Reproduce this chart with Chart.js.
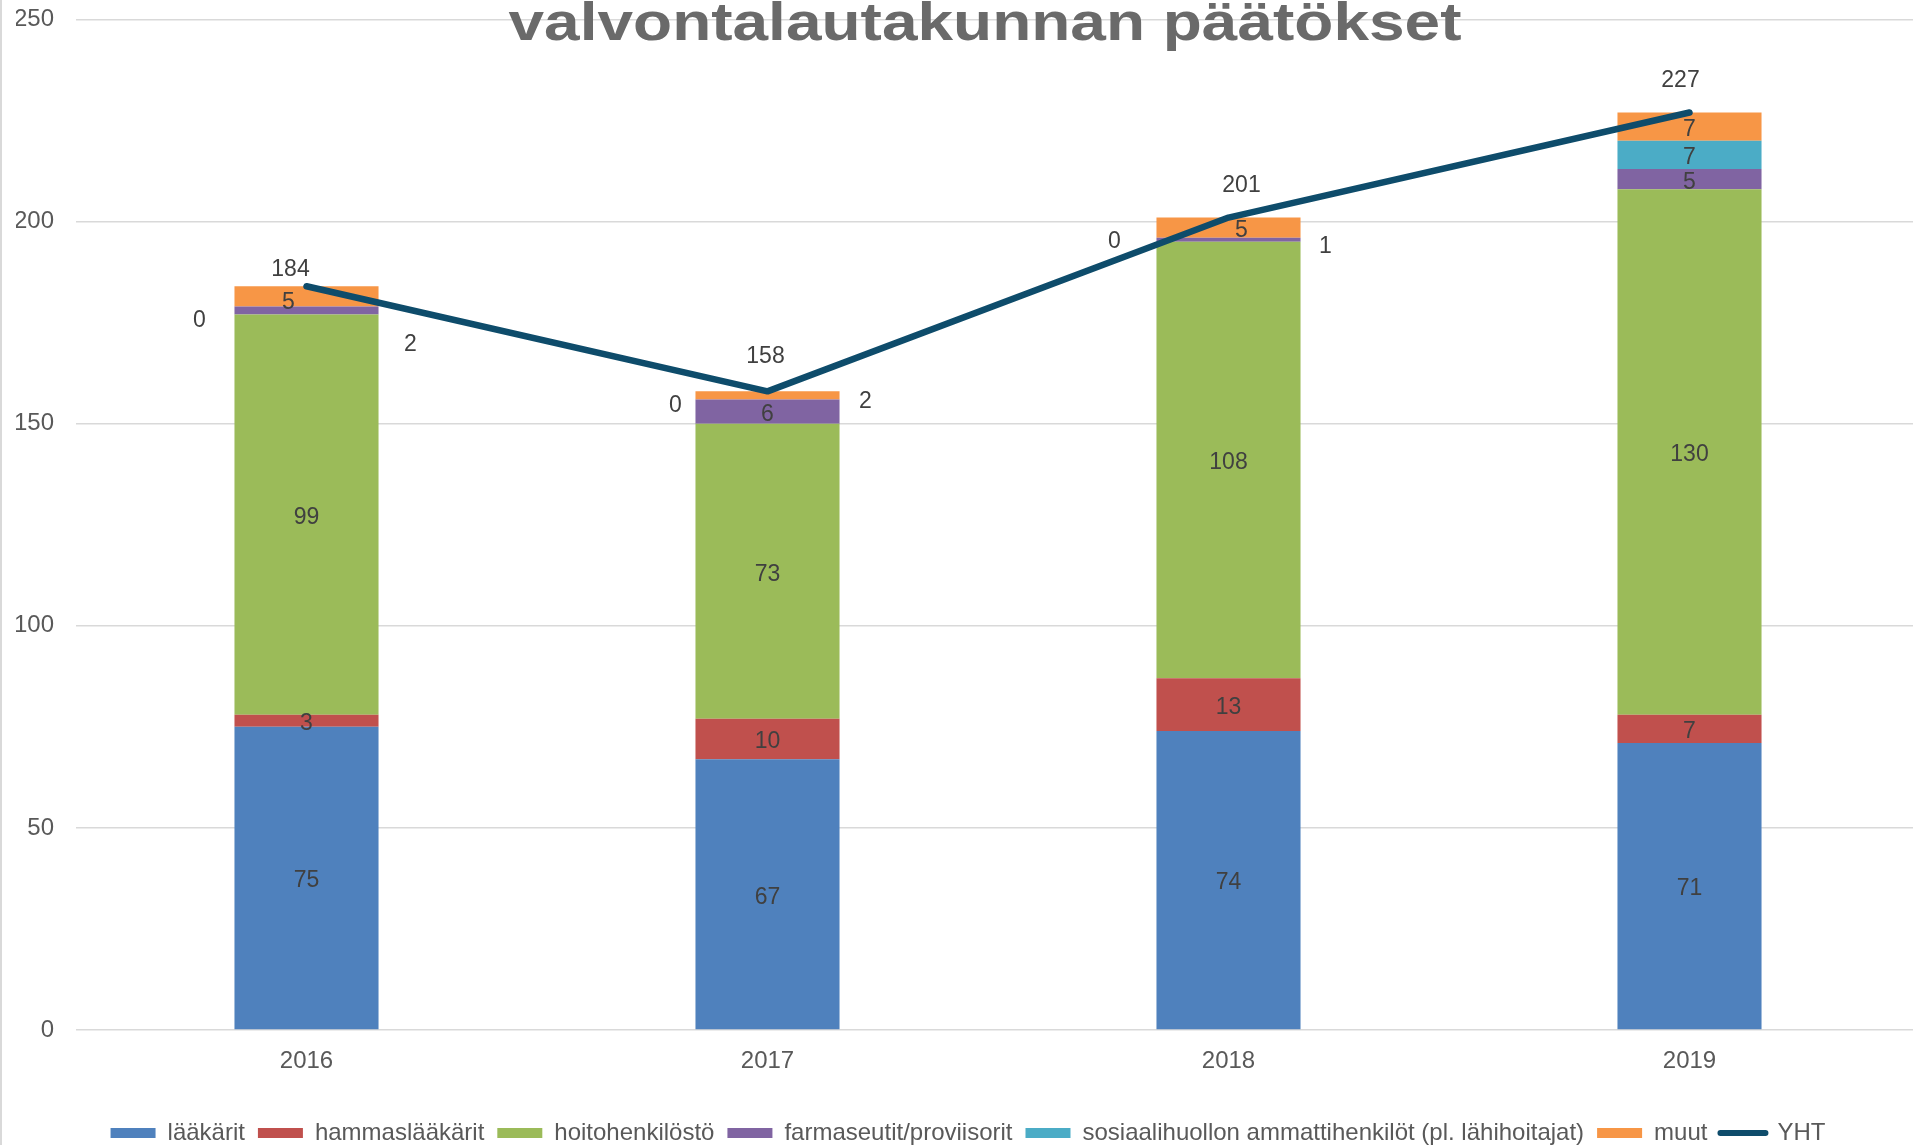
<!DOCTYPE html>
<html><head><meta charset="utf-8">
<script src="https://cdn.jsdelivr.net/npm/chart.js@4/dist/chart.umd.min.js"></script>
<style>
html,body{margin:0;padding:0;overflow:hidden;background:#fff;width:1913px;height:1145px}
#wrap{position:relative;width:1920px;height:1155px}
canvas{display:block}
</style>
</head><body><div id="wrap"><canvas id="c" width="1920" height="1155"></canvas></div>
<script>
const categories = ['2016', '2017', '2018', '2019'];
const laakarit = [75, 67, 74, 71];
const hammaslaakarit = [3, 10, 13, 7];
const hoitohenkilosto = [99, 73, 108, 130];
const farmaseutit = [2, 6, 1, 5];
const sosiaalihuolto = [0, 0, 0, 7];
const muut = [5, 2, 5, 7];
const yht = [184, 158, 201, 227];
const yTicks = [0, 50, 100, 150, 200, 250];
const seriesNames = ['lääkärit', 'hammaslääkärit', 'hoitohenkilöstö', 'farmaseutit/proviisorit', 'sosiaalihuollon ammattihenkilöt (pl. lähihoitajat)', 'muut', 'YHT'];
const titleText = 'valvontalautakunnan päätökset';

const FONT = '"Liberation Sans", Arial, sans-serif';
const barColors = ['#4f81bd', '#c0504d', '#9bbb59', '#8064a2', '#4bacc6', '#f79646'];
const lineColor = '#0e4c6b';

// manual label nudges (datasetIndex,index) -> [dx, dy] in px
const nudges = {
  '4,0': [-107, 11], '3,0': [104, 31], '5,0': [-18, 3], '6,0': [-16, -20],
  '4,1': [-92, 3], '5,1': [98, 3], '6,1': [-2, -38],
  '3,2': [97, 4], '4,2': [-114, 1], '5,2': [13, 0], '6,2': [13, -35],
  '6,3': [-9, -35]
};

const labelPlugin = {
  id: 'valueLabels',
  afterDatasetsDraw(chart) {
    const ctx = chart.ctx;
    ctx.save();
    ctx.font = '23px ' + FONT;
    ctx.fillStyle = '#404040';
    ctx.textAlign = 'center';
    ctx.textBaseline = 'middle';
    chart.data.datasets.forEach((ds, di) => {
      const meta = chart.getDatasetMeta(di);
      meta.data.forEach((el, i) => {
        let x = el.x, y;
        if (ds.type === 'line') y = el.y; else y = (el.y + el.base) / 2;
        const n = nudges[di + ',' + i];
        if (n) { x += n[0]; y += n[1]; }
        ctx.fillText(String(ds.data[i]), x, y + 3);
      });
    });
    ctx.restore();
  }
};

const decoPlugin = {
  id: 'deco',
  afterDraw(chart) {
    const ctx = chart.ctx;
    ctx.save();
    ctx.strokeStyle = '#d9d9d9';
    ctx.lineWidth = 2;
    ctx.beginPath(); ctx.moveTo(1, 0); ctx.lineTo(1, chart.height); ctx.stroke();
    ctx.font = 'bold 53px ' + FONT;
    const w = ctx.measureText(titleText).width;
    const targetW = 953;
    const cx = 985;
    ctx.fillStyle = '#ffffff';
    ctx.fillRect(cx - targetW / 2 - 4, 0, targetW + 8, 14);
    ctx.fillStyle = '#6a6a6a';
    ctx.textAlign = 'center';
    ctx.textBaseline = 'alphabetic';
    ctx.translate(cx, 40);
    ctx.scale(targetW / w, 1);
    ctx.fillText(titleText, 0, 0);
    ctx.restore();
  }
};

const barSeries = [laakarit, hammaslaakarit, hoitohenkilosto, farmaseutit, sosiaalihuolto, muut];
const datasets = barSeries.map((d, i) => ({
  type: 'bar',
  label: seriesNames[i],
  data: d,
  backgroundColor: barColors[i],
  borderWidth: 0,
  order: 1,
  categoryPercentage: 1,
  barPercentage: 0.3125
}));
datasets.push({
  type: 'line',
  label: seriesNames[6],
  data: yht,
  borderColor: lineColor,
  backgroundColor: lineColor,
  borderWidth: 6.5,
  borderCapStyle: 'round',
  borderJoinStyle: 'round',
  pointRadius: 0,
  tension: 0,
  order: 0
});

new Chart(document.getElementById('c'), {
  data: { labels: categories, datasets },
  options: {
    responsive: false,
    animation: false,
    layout: { autoPadding: false, padding: { top: 19.5, left: 16, right: 0, bottom: 0 } },
    scales: {
      x: {
        stacked: true,
        grid: { display: false },
        border: { display: false },
        ticks: { color: '#595959', font: { size: 24, family: FONT }, padding: 9 },
        afterFit(scale) { scale.height = 78; scale.paddingLeft = 0; scale.paddingRight = 0; }
      },
      y: {
        stacked: true,
        min: 0, max: 250,
        afterBuildTicks(scale) { scale.ticks = yTicks.map(v => ({ value: v })); },
        grid: { color: '#d9d9d9', lineWidth: 1.5, drawTicks: false },
        border: { display: false },
        ticks: { color: '#595959', font: { size: 24, family: FONT }, padding: 22 },
        afterFit(scale) { scale.width = 60; scale.paddingTop = 0; scale.paddingBottom = 0; }
      }
    },
    plugins: {
      title: { display: false },
      tooltip: { enabled: false },
      legend: {
        position: 'bottom',
        labels: {
          color: '#595959',
          font: { size: 24, family: FONT },
          usePointStyle: true,
          pointStyleWidth: 45,
          boxHeight: 10,
          padding: 13,
          generateLabels(chart) {
            const items = Chart.defaults.plugins.legend.labels.generateLabels(chart);
            items.forEach(it => {
              const ds = chart.data.datasets[it.datasetIndex];
              if (ds.type === 'line') {
                it.pointStyle = 'line';
                it.strokeStyle = lineColor;
                it.lineWidth = 6;
                it.lineCap = 'round';
              } else {
                it.pointStyle = 'rect';
                it.lineWidth = 0;
                it.fillStyle = ds.backgroundColor;
                it.strokeStyle = ds.backgroundColor;
              }
            });
            items.sort((a, b) => a.datasetIndex - b.datasetIndex);
            return items;
          }
        }
      }
    }
  },
  plugins: [labelPlugin, decoPlugin]
});
</script>
</body></html>
